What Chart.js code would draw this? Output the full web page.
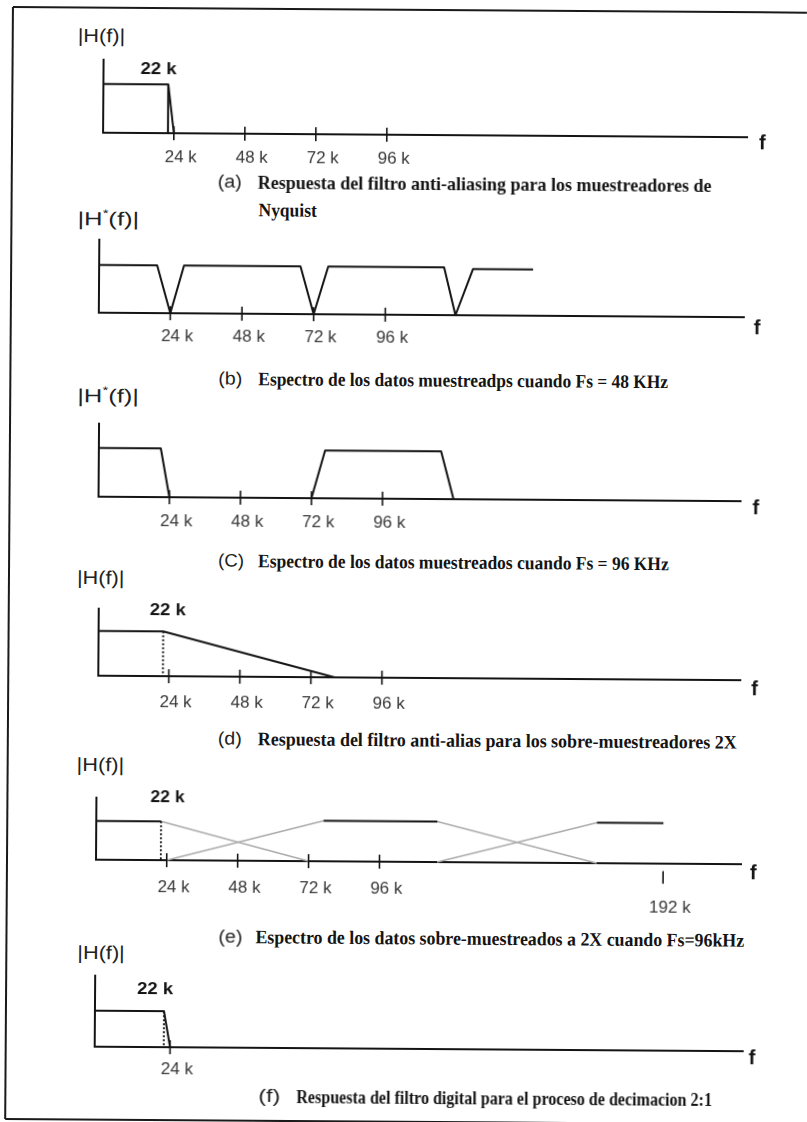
<!DOCTYPE html>
<html>
<head>
<meta charset="utf-8">
<script src="https://cdn.jsdelivr.net/npm/chart.js@4.4.1/dist/chart.umd.min.js"></script>
<style>
  html, body { margin: 0; padding: 0; background: #fff; }
  #page {
    position: relative; width: 807px; height: 1122px; overflow: hidden; background: #fff;
    transform: rotate(0.4deg); transform-origin: 0 0;
  }
  canvas.panel { position: absolute; left: 0; }
  .t { position: absolute; white-space: nowrap; line-height: 1; transform-origin: 0 50%; color: #141414; }
  .ylab { font-family: 'Liberation Sans', Arial, sans-serif; font-size: 19px; color: #222; }
  .ylab sup { font-size: 11px; position: relative; top: -1px; }
  .corner { font-family: 'Liberation Sans', Arial, sans-serif; font-weight: bold; font-size: 16px; }
  .fvar { font-family: 'Liberation Sans', Arial, sans-serif; font-weight: bold; font-size: 20px; }
  .pre { font-family: 'Liberation Sans', Arial, sans-serif; font-size: 18px; color: #222; }
  .cap { font-family: 'Liberation Serif', 'Times New Roman', serif; font-weight: bold; font-size: 19px; }
  svg.frame { position: absolute; left: 0; top: 0; }
</style>
</head>
<body>
<div id="page">
  <svg class="frame" width="807" height="1122">
    <line x1="13" y1="7" x2="807" y2="7" stroke="#1a1a1a" stroke-width="2"/>
    <line x1="13" y1="7" x2="13" y2="1119" stroke="#1a1a1a" stroke-width="2"/>
    <line x1="13" y1="1119" x2="807" y2="1119" stroke="#1a1a1a" stroke-width="2"/>
  </svg>
</div>
<script>
// ---------- tick frequencies (kHz) ----------
const tickKHz  = [24, 48, 72, 96];
const tickKHzE = [24, 48, 72, 96, 192];
const tickKHzF = [24];
const loweredTicks = [192];

// ---------- (a) anti-aliasing filter, Nyquist-rate sampling ----------
const aBoxF  = [0, 22, 22];
const aBoxH  = [1, 1, 0];
const aRollF = [22, 24];
const aRollH = [1, 0];

// ---------- (b) spectrum sampled at Fs = 48 kHz ----------
const bF = [0, 19.5, 24, 28.5, 67.5, 72, 76.8, 115.6, 119.5, 125.3, 145.4];
const bH = [1, 1, 0, 1, 1, 0, 1, 1, 0, 0.97, 0.97];

// ---------- (c) spectrum sampled at Fs = 96 kHz ----------
const cBaseF  = [0, 21, 24];
const cBaseH  = [1, 1, 0];
const cImageF = [72, 76.5, 115.7, 120];
const cImageH = [0, 0.98, 0.98, 0];

// ---------- (d) anti-alias filter, 2X oversampling ----------
const dF    = [0, 22, 80];
const dH    = [1, 1, 0];
const dCutF = [22, 22];
const dCutH = [1, 0];

// ---------- (e) 2X oversampled spectrum, Fs = 96 kHz ----------
const ePass1F = [0, 22];        const ePass1H = [1, 1];
const ePass2F = [77, 115.5];    const ePass2H = [1.045, 1.045];
const ePass3F = [169.5, 192];   const ePass3H = [1.045, 1.045];
const eFall1F = [22, 72];       const eFall1H = [1, 0];
const eRise1F = [24, 77];       const eRise1H = [0, 1.045];
const eFall2F = [115.5, 169.5]; const eFall2H = [1.045, 0];
const eRise2F = [115.5, 169.5]; const eRise2H = [0, 1.045];
const eCutF   = [22, 22];       const eCutH   = [1, 0];
const eMarkF  = [24, 48, 72, 96];
const eFarMarkF = [192, 192];   const eFarMarkH = [-0.21, -0.5];

// ---------- (f) digital filter for 2:1 decimation ----------
const fF    = [0, 22, 24];
const fH    = [1, 1, 0];
const fCutF = [22, 22];
const fCutH = [1, 0];

// ---------- page layout (pixels) ----------
const W = 807, PADT = 8;
const layoutA = { x0: 103.8, ppk: 2.958, xEnd: 748,   top: 58.3,  plateau: 83.1,   axis: 132.3,  labelPad: 15.5, scaleH: 48 };
const layoutB = { x0: 100.8, ppk: 2.986, xEnd: 746.2, top: 238.3, plateau: 264.1,  axis: 312.3,  labelPad: 15,   scaleH: 48 };
const layoutC = { x0: 101.8, ppk: 2.96,  xEnd: 744.5, top: 422.3, plateau: 447.1,  axis: 496.3,  labelPad: 16,   scaleH: 48 };
const layoutD = { x0: 102.5, ppk: 2.96,  xEnd: 745.8, top: 607.3, plateau: 630.1,  axis: 675.3,  labelPad: 17.5, scaleH: 48 };
const layoutE = { x0: 101.8, ppk: 2.955, xEnd: 747,   top: 796.3, plateau: 820.1,  axis: 859.3,  labelPad: 18.5, scaleH: 64 };
const layoutF = { x0: 102,   ppk: 3.14,  xEnd: 750.4, top: 974.3, plateau: 1010.1, axis: 1046.3, labelPad: 14,   scaleH: 40 };

const INK = '#141414';
const pts = (f, h) => f.map((v, i) => ({ x: v, y: h[i] }));

function trace(f, h, kind) {
  const base = { data: pts(f, h), pointRadius: 0, fill: false, tension: 0, clip: false,
                 borderJoinStyle: 'round', borderCapStyle: 'butt' };
  if (kind === 'dot')  return Object.assign(base, { borderColor: INK, borderWidth: 1.8, borderDash: [2, 2], order: 2 });
  if (kind === 'gray') return Object.assign(base, { borderColor: '#ababab', borderWidth: 1.5, order: 3 });
  if (kind === 'tick') return Object.assign(base, { borderColor: INK, borderWidth: 1.6, order: 0 });
  return Object.assign(base, { borderColor: INK, borderWidth: 2, order: 1 });
}

// short vertical tick marks centred on the frequency axis
function marks(f) {
  return { data: pts(f, f.map(() => 0)), showLine: false, clip: false, pointStyle: 'line', pointRotation: 90,
           pointRadius: 7, pointBorderWidth: 1.6, pointBorderColor: INK, order: 0 };
}

function sketch(geo, ticks, datasets) {
  const page = document.getElementById('page');
  const cv = document.createElement('canvas');
  cv.className = 'panel';
  const h = PADT + (geo.axis - geo.top) + geo.scaleH;
  cv.width = W; cv.height = Math.round(h);
  cv.style.top = (geo.top - PADT) + 'px';
  page.appendChild(cv);
  const yMax = (geo.axis - geo.top) / (geo.axis - geo.plateau);
  return new Chart(cv, {
    type: 'line',
    data: { datasets },
    options: {
      responsive: false, animation: false, devicePixelRatio: 1, events: [],
      layout: { padding: { left: geo.x0, right: W - geo.xEnd, top: PADT, bottom: 0 } },
      plugins: { legend: { display: false }, tooltip: { enabled: false } },
      scales: {
        x: {
          type: 'linear', min: 0, max: (geo.xEnd - geo.x0) / geo.ppk,
          afterBuildTicks: s => { s.ticks = ticks.map(v => ({ value: v })); },
          afterFit: s => { s.height = geo.scaleH; },
          grid: { display: false, drawTicks: false },
          border: { display: true, color: INK, width: 2 },
          ticks: {
            autoSkip: false, maxRotation: 0, minRotation: 0,
            padding: geo.labelPad, labelOffset: 7, color: '#383838',
            font: { family: "'Liberation Sans', Arial, sans-serif", size: 17, lineHeight: 1 },
            callback: v => loweredTicks.includes(v) ? ['', v + ' k'] : v + ' k'
          }
        },
        y: {
          type: 'linear', min: 0, max: yMax,
          afterFit: s => { s.width = 0; },
          ticks: { display: false },
          grid: { display: false, drawTicks: false },
          border: { display: true, color: INK, width: 2 }
        }
      }
    }
  });
}

// (a)
sketch(layoutA, tickKHz, [
  trace(aBoxF, aBoxH), trace(aRollF, aRollH), marks(tickKHz)
]);
// (b)
sketch(layoutB, tickKHz, [
  trace(bF, bH), marks(tickKHz)
]);
// (c)
sketch(layoutC, tickKHz, [
  trace(cBaseF, cBaseH), trace(cImageF, cImageH), marks(tickKHz)
]);
// (d)
sketch(layoutD, tickKHz, [
  trace(dF, dH), trace(dCutF, dCutH, 'dot'), marks(tickKHz)
]);
// (e)
sketch(layoutE, tickKHzE, [
  trace(ePass1F, ePass1H), trace(ePass2F, ePass2H), trace(ePass3F, ePass3H),
  trace(eFall1F, eFall1H, 'gray'), trace(eRise1F, eRise1H, 'gray'),
  trace(eFall2F, eFall2H, 'gray'), trace(eRise2F, eRise2H, 'gray'),
  trace(eCutF, eCutH, 'dot'),
  marks(eMarkF), trace(eFarMarkF, eFarMarkH, 'tick')
]);
// (f)
sketch(layoutF, tickKHzF, [
  trace(fF, fH), trace(fCutF, fCutH, 'dot'), marks(tickKHzF)
]);

// ---------- labels and captions ----------
const page = document.getElementById('page');
// place a text label; its left edge at x, vertical centre at y, optionally squeezed to a width
function label(cls, html, x, y, width) {
  const el = document.createElement('div');
  el.className = 't ' + cls;
  el.innerHTML = html;
  el.style.left = x + 'px';
  el.style.top = y + 'px';
  page.appendChild(el);
  const s = width ? width / el.offsetWidth : 1;
  el.style.transform = 'translateY(-50%) scaleX(' + s.toFixed(4) + ')';
  return el;
}

const H  = '|H(f)|';
const HS = '|H<sup>*</sup>(f)|';
label('ylab', H,  78.3, 35.3, 48);
label('ylab', HS, 78.5, 218.3, 62);
label('ylab', HS, 79.8, 395.3, 62);
label('ylab', H,  81.0, 577.3, 48);
label('ylab', H,  82.4, 764.3, 48);
label('ylab', H,  83.7, 952.3, 48);

label('corner', '22 k', 141.0, 68.4, 36);
label('corner', '22 k', 154.3, 608.9, 36);
label('corner', '22 k', 155.6, 795.9, 34);
label('corner', '22 k', 143.9, 988.0, 36);

[136.7, 321.7, 501.7, 682.7, 866.7, 1051.7].forEach((y, i) => label('fvar', 'f', i === 0 ? 760 : 756, y));

label('pre', '(a)', 219.3, 179.9, 24);
label('cap', 'Respuesta del filtro anti-aliasing para los muestreadores de', 259.3, 179.9, 454);
label('cap', 'Nyquist', 259.5, 208.3, 58);
label('pre', '(b)', 220.7, 376.9, 24);
label('cap', 'Espectro de los datos muestreadps cuando Fs = 48 KHz', 260.7, 376.9, 410);
label('pre', '(C)', 221.9, 558.9, 26);
label('cap', 'Espectro de los datos muestreados cuando Fs = 96 KHz', 261.9, 558.9, 411);
label('pre', '(d)', 223.2, 736.7, 24);
label('cap', 'Respuesta del filtro anti-alias para los sobre-muestreadores 2X', 263.2, 736.7, 479);
label('pre', '(e)', 224.6, 934.6, 24);
label('cap', 'Espectro de los datos sobre-muestreados a 2X cuando Fs=96kHz', 261.6, 934.6, 489);
label('pre', '(f)', 265.7, 1093.9, 22);
label('cap', 'Respuesta del filtro digital para el proceso de decimacion 2:1', 303.7, 1093.9, 416);
</script>
</body>
</html>
